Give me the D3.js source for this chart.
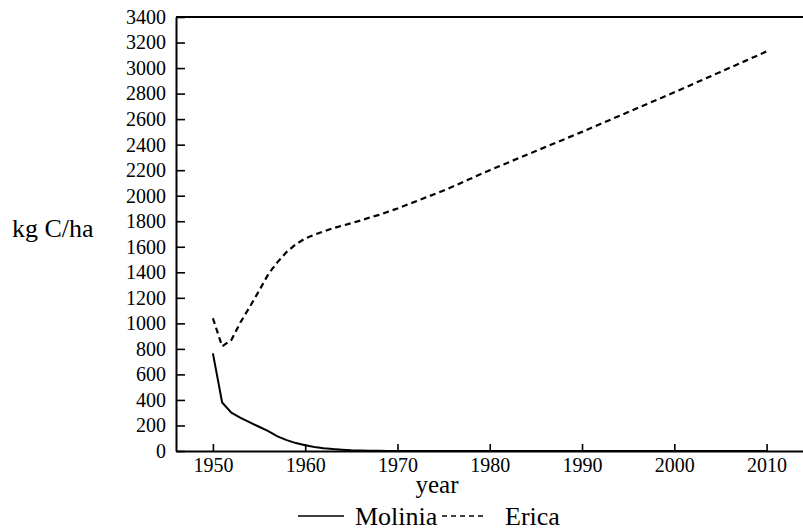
<!DOCTYPE html>
<html>
<head>
<meta charset="utf-8">
<script src="https://cdn.jsdelivr.net/npm/d3@7"></script>
<style>
    body { margin: 0; background: #fff; }
    svg { display: block; }
    .axis path, .axis line { stroke: #000; }
    .axis path { stroke-width: 2; }
    .axis line { stroke-width: 1.6; }
</style>
</head>
<body>
<svg id="chart" width="803" height="531"></svg>
<script>
// values
const molYears = [1950, 1951, 1952, 1953, 1954, 1955, 1956, 1957, 1958, 1959, 1960,
    1961, 1962, 1963, 1964, 1965, 1966, 1967, 1968, 1969, 1970, 1980, 1990, 2000, 2010];
const molinia = [765, 380, 300, 260, 225, 190, 155, 115, 85, 62, 45,
    32, 22, 15, 10, 6, 4, 2, 1, 0, 0, 0, 0, 0, 0];

const ericaYears = [1950, 1951, 1952, 1953, 1954, 1955, 1956, 1957, 1958, 1959, 1960,
    1961, 1962, 1963, 1964, 1965, 1966, 1967, 1968, 1969, 1970,
    1975, 1980, 1985, 1990, 1995, 2000, 2005, 2010];
const erica = [1040, 820, 870, 1010, 1130, 1255, 1385, 1480, 1560, 1620, 1665,
    1695, 1720, 1745, 1765, 1785, 1805, 1830, 1850, 1875, 1900,
    2040, 2200, 2350, 2500, 2655, 2810, 2970, 3130];

const xTicks = [1950, 1960, 1970, 1980, 1990, 2000, 2010];
const yTicks = d3.range(0, 3401, 200);

const serif = "Liberation Serif, Times New Roman, serif";

let svg = d3.select("#chart")
    .attr("font-family", serif);

let x = d3.scaleLinear()
    .domain([1946, 2014])
    .range([176, 803.5]);
let y = d3.scaleLinear()
    .domain([0, 3400])
    .range([451, 17]);

// top frame line
svg.append("line")
    .attr("x1", 176).attr("x2", 803)
    .attr("y1", y(3400)).attr("y2", y(3400))
    .attr("stroke", "#000")
    .attr("stroke-width", 2);

let yAxis = svg.append("g")
    .classed("axis", true)
    .attr("transform", "translate(176,0)")
    .call(d3.axisLeft(y).tickValues(yTicks).tickFormat(d3.format("d"))
        .tickSize(-9).tickSizeOuter(0).tickPadding(10));

let xAxis = svg.append("g")
    .classed("axis", true)
    .attr("transform", "translate(0,451)")
    .call(d3.axisBottom(x).tickValues(xTicks).tickFormat(d3.format("d"))
        .tickSize(-7).tickSizeOuter(0).tickPadding(7));

[yAxis, xAxis].forEach(g => {
    g.attr("font-family", serif).attr("font-size", 20);
    g.selectAll("text")
        .attr("fill", "#000")
        .style("font-family", serif)
        .style("font-size", "20px");
});

let line = d3.line()
    .x(d => x(d[0]))
    .y(d => y(d[1]));

svg.append("path")
    .datum(molYears.map((yr, i) => [yr, molinia[i]]))
    .attr("fill", "none")
    .attr("stroke", "#000")
    .attr("stroke-width", 2)
    .attr("d", line);

svg.append("path")
    .datum(ericaYears.map((yr, i) => [yr, erica[i]]))
    .attr("fill", "none")
    .attr("stroke", "#000")
    .attr("stroke-width", 2.2)
    .attr("stroke-dasharray", "6,4")
    .attr("d", line);

// axis titles
svg.append("text")
    .attr("x", 12)
    .attr("y", 237)
    .style("font-size", "26px")
    .text("kg C/ha");

svg.append("text")
    .attr("x", 437)
    .attr("y", 493)
    .attr("text-anchor", "middle")
    .style("font-size", "25px")
    .text("year");

// legend
let legend = svg.append("g").attr("id", "legend");
legend.append("line")
    .attr("x1", 298).attr("x2", 344)
    .attr("y1", 516).attr("y2", 516)
    .attr("stroke", "#000")
    .attr("stroke-width", 1.6);
legend.append("text")
    .attr("x", 355).attr("y", 525)
    .style("font-size", "26px")
    .text("Molinia");
legend.append("line")
    .attr("x1", 442).attr("x2", 484)
    .attr("y1", 516).attr("y2", 516)
    .attr("stroke", "#000")
    .attr("stroke-width", 1.4)
    .attr("stroke-dasharray", "5,4");
legend.append("text")
    .attr("x", 505).attr("y", 525)
    .style("font-size", "26px")
    .text("Erica");
</script>
</body>
</html>
